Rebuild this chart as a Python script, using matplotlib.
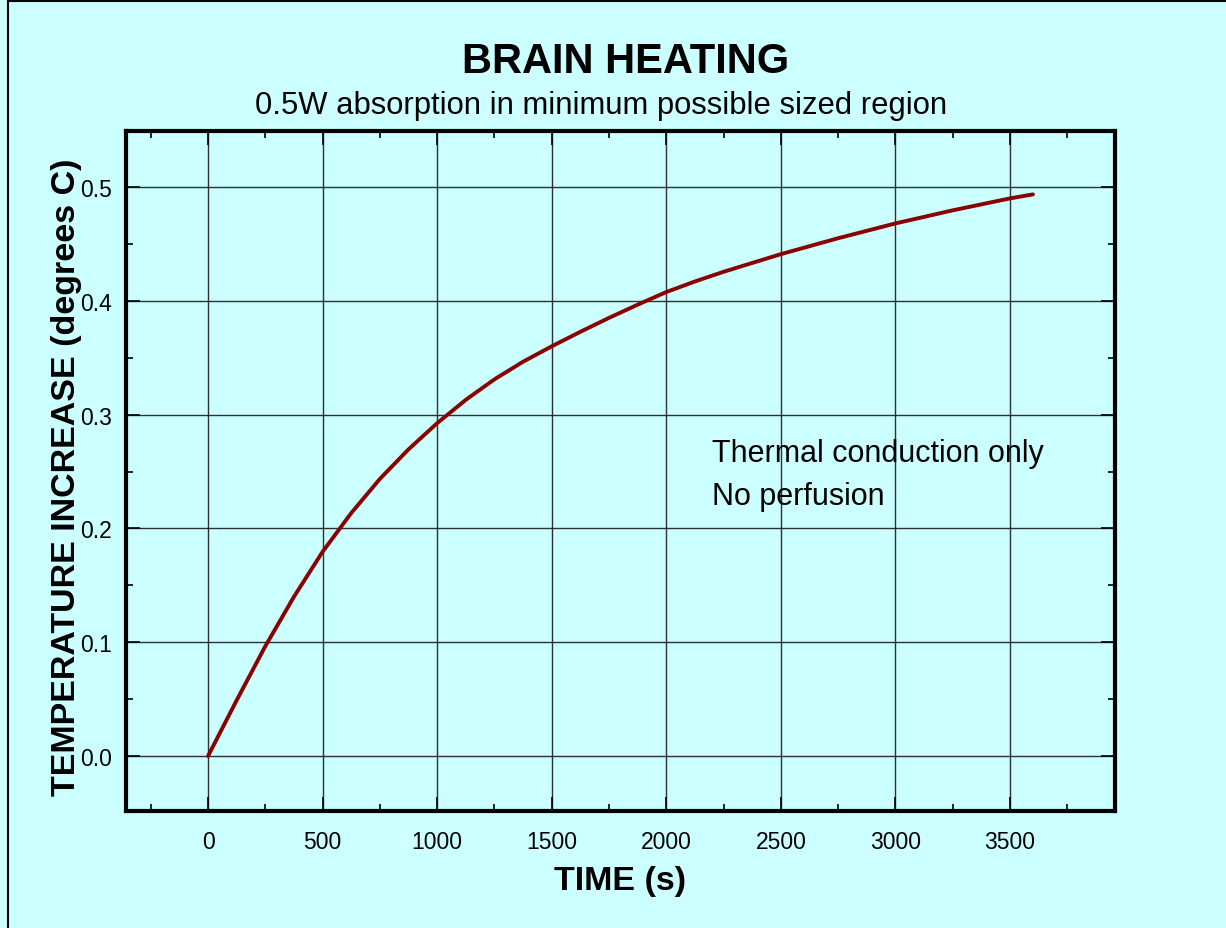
import matplotlib
matplotlib.use("Agg")
import matplotlib.pyplot as plt
from matplotlib.ticker import MultipleLocator, FormatStrFormatter
from matplotlib.lines import Line2D

plt.rcParams['font.family'] = ['Liberation Sans', 'DejaVu Sans']

# data
time_s = [0, 125, 250, 375, 500, 625, 750, 875, 1000, 1125, 1250, 1375, 1500,
          1625, 1750, 1875, 2000, 2125, 2250, 2500, 2750, 3000, 3250, 3500, 3600]
temp_c = [0.0, 0.049, 0.0965, 0.140, 0.1795, 0.2135, 0.2435, 0.2695, 0.2925,
          0.313, 0.331, 0.3465, 0.360, 0.3728, 0.385, 0.3966, 0.4077, 0.417,
          0.4255, 0.441, 0.455, 0.468, 0.4795, 0.490, 0.4935]

x_ticks = [0, 500, 1000, 1500, 2000, 2500, 3000, 3500]
y_ticks = [0.0, 0.1, 0.2, 0.3, 0.4, 0.5]

title = "BRAIN HEATING"
subtitle = "0.5W absorption in minimum possible sized region"
note_lines = ["Thermal conduction only", "No perfusion"]

bg = '#CCFFFF'
fig = plt.figure(figsize=(12.26, 9.29), dpi=100, facecolor=bg)
ax = fig.add_axes([126/1226, 1-812/929, (1115-126)/1226, (812-132)/929], facecolor=bg)

ax.plot(time_s, temp_c, color='#8B0000', lw=2.8, solid_capstyle='round',
        solid_joinstyle='round', zorder=3)

ax.set_xlim(-358, 3958)
ax.set_ylim(-0.0483, 0.5492)
ax.set_xticks(x_ticks)
ax.set_yticks(y_ticks)
ax.xaxis.set_minor_locator(MultipleLocator(250))
ax.yaxis.set_minor_locator(MultipleLocator(0.05))
ax.yaxis.set_major_formatter(FormatStrFormatter('%.1f'))
ax.grid(True, which='major', color='#1a1a1a', lw=1.0, alpha=0.9)
ax.tick_params(which='both', direction='in', top=True, right=True, labelsize=16.5,
               colors='black')
ax.tick_params(which='major', length=10, width=1.2, pad=14)
ax.tick_params(which='minor', length=5, width=1.2)
ax.tick_params(axis='y', which='major', pad=10)
for s in ax.spines.values():
    s.set_linewidth(3)

ax.set_xlabel("TIME (s)", fontsize=24.5, fontweight='bold', labelpad=8)
ax.set_ylabel("TEMPERATURE INCREASE (degrees C)", fontsize=24.5, fontweight='bold')
ax.yaxis.set_label_coords(-(126-82)/989, 0.5 - (477-472)/680)

ax.text(2200, 0.2665, note_lines[0], fontsize=22, va='center', ha='left')
ax.text(2200, 0.2285, note_lines[1], fontsize=22, va='center', ha='left')

fig.text(626/1226, 1-62/929, title, fontsize=30, fontweight='bold', ha='center', va='center')
fig.text(601/1226, 1-106/929, subtitle, fontsize=22.3, ha='center', va='center')

# figure border
fig.add_artist(Line2D([7.5/1226, 7.5/1226], [0, 1-2/929], transform=fig.transFigure, color='black', lw=1.5))
fig.add_artist(Line2D([7.5/1226, 1], [1-2/929, 1-2/929], transform=fig.transFigure, color='black', lw=1.5))

fig.savefig('out.png', dpi=100, facecolor=bg)
